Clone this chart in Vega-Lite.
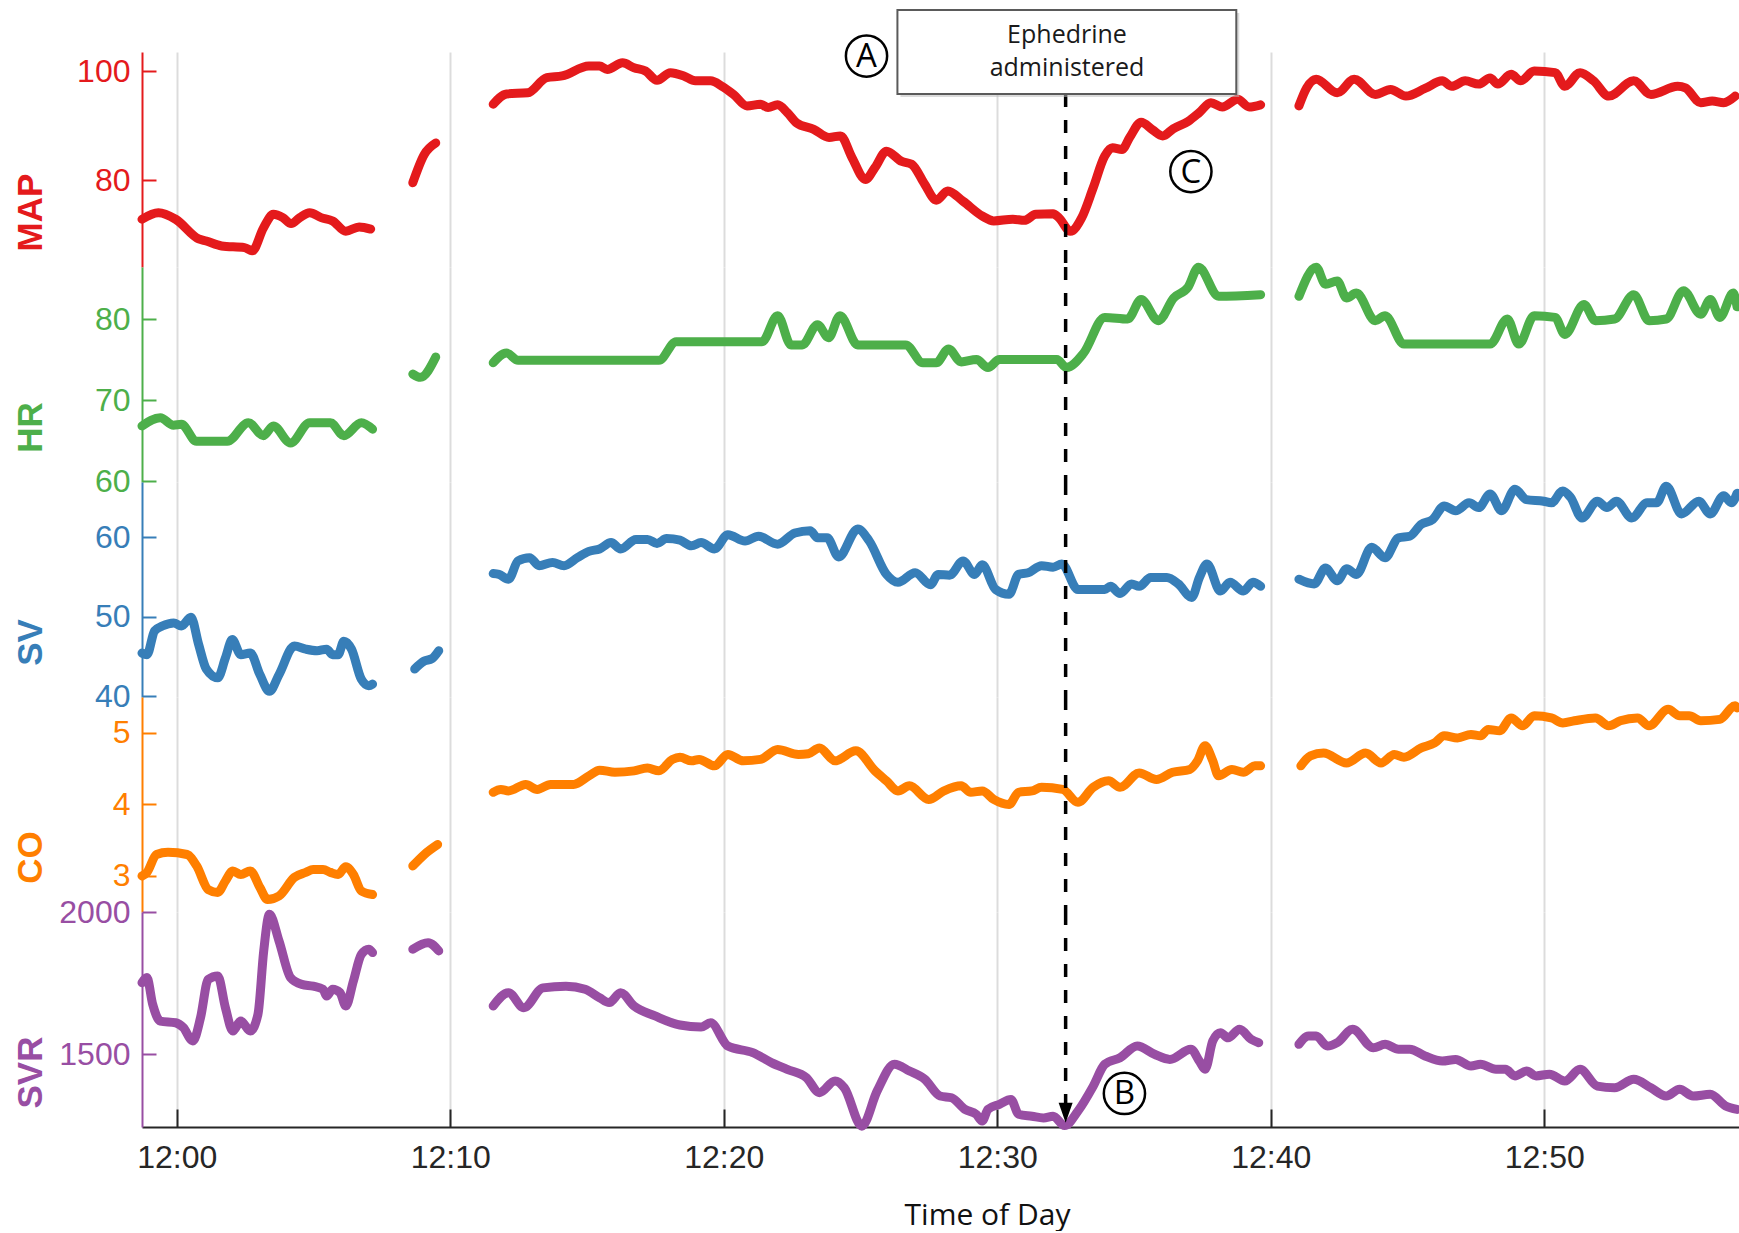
{
  "$schema": "https://vega.github.io/schema/vega-lite/v6.json",
  "background": "white",
  "padding": {"left": 13, "top": 9, "right": 0, "bottom": 1},
  "autosize": {"type": "pad"},
  "spacing": 0,
  "bounds": "flush",
  "resolve": {"scale": {"y": "independent"}, "axis": {"x": "independent", "y": "independent"}},
  "config": {
    "view": {"stroke": null},
    "axis": {"labelFont": "Liberation Sans", "titleFont": "Liberation Sans"},
    "line": {"strokeWidth": 9, "strokeCap": "round", "strokeJoin": "round", "interpolate": "monotone"}
  },
  "datasets": {
    "map": [
      {"t":-1.27,"v":72.8,"s":1},{"t":-0.67,"v":74.0,"s":1},{"t":-0.04,"v":72.8,"s":1},{"t":0.8,"v":69.2,"s":1},{"t":1.08,"v":68.8,"s":1},{"t":1.64,"v":67.9,"s":1},{"t":2.48,"v":67.6,"s":1},{"t":2.76,"v":67.0,"s":1},{"t":3.17,"v":71.2,"s":1},{"t":3.53,"v":73.7,"s":1},{"t":3.88,"v":73.1,"s":1},{"t":4.18,"v":72.0,"s":1},{"t":4.5,"v":73.1,"s":1},{"t":4.86,"v":74.0,"s":1},{"t":5.28,"v":73.1,"s":1},{"t":5.7,"v":72.5,"s":1},{"t":6.18,"v":70.6,"s":1},{"t":6.67,"v":71.4,"s":1},{"t":7.09,"v":71.0,"s":1},
      {"t":8.63,"v":79.5,"s":2},{"t":9.05,"v":84.7,"s":2},{"t":9.47,"v":86.8,"s":2},
      {"t":11.57,"v":93.9,"s":3},{"t":12.06,"v":95.8,"s":3},{"t":12.83,"v":96.0,"s":3},{"t":13.53,"v":98.8,"s":3},{"t":14.09,"v":99.1,"s":3},{"t":15.07,"v":100.9,"s":3},{"t":15.46,"v":100.9,"s":3},{"t":15.74,"v":100.3,"s":3},{"t":16.3,"v":101.5,"s":3},{"t":16.72,"v":100.6,"s":3},{"t":17.14,"v":100.0,"s":3},{"t":17.56,"v":98.3,"s":3},{"t":18.05,"v":99.7,"s":3},{"t":18.54,"v":99.1,"s":3},{"t":18.96,"v":98.2,"s":3},{"t":19.52,"v":98.2,"s":3},{"t":19.94,"v":97.2,"s":3},{"t":20.36,"v":95.7,"s":3},{"t":20.85,"v":93.6,"s":3},{"t":21.34,"v":93.9,"s":3},{"t":21.62,"v":93.3,"s":3},{"t":21.97,"v":93.8,"s":3},{"t":22.32,"v":92.4,"s":3},{"t":22.66,"v":90.5,"s":3},{"t":23.29,"v":89.3,"s":3},{"t":23.85,"v":87.8,"s":3},{"t":24.27,"v":88.1,"s":3},{"t":24.69,"v":84.1,"s":3},{"t":25.18,"v":80.1,"s":3},{"t":25.53,"v":82.3,"s":3},{"t":25.95,"v":85.3,"s":3},{"t":26.51,"v":83.4,"s":3},{"t":26.87,"v":82.9,"s":3},{"t":27.35,"v":79.2,"s":3},{"t":27.77,"v":76.3,"s":3},{"t":28.19,"v":78.0,"s":3},{"t":28.75,"v":76.1,"s":3},{"t":29.45,"v":73.4,"s":3},{"t":29.87,"v":72.5,"s":3},{"t":30.57,"v":72.8,"s":3},{"t":30.99,"v":72.6,"s":3},{"t":31.41,"v":73.7,"s":3},{"t":32.04,"v":73.8,"s":3},{"t":32.25,"v":73.1,"s":3},{"t":32.67,"v":70.6,"s":3},{"t":33.09,"v":73.1,"s":3},{"t":33.51,"v":78.6,"s":3},{"t":33.93,"v":84.4,"s":3},{"t":34.21,"v":85.9,"s":3},{"t":34.56,"v":85.6,"s":3},{"t":34.84,"v":87.8,"s":3},{"t":35.26,"v":90.6,"s":3},{"t":35.68,"v":89.2,"s":3},{"t":36.05,"v":88.1,"s":3},{"t":36.43,"v":89.4,"s":3},{"t":36.99,"v":90.8,"s":3},{"t":37.39,"v":92.4,"s":3},{"t":37.81,"v":94.2,"s":3},{"t":38.23,"v":93.4,"s":3},{"t":38.79,"v":94.8,"s":3},{"t":39.21,"v":93.4,"s":3},{"t":39.63,"v":93.8,"s":3},
      {"t":41.03,"v":93.6,"s":4},{"t":41.31,"v":96.9,"s":4},{"t":41.66,"v":98.5,"s":4},{"t":42.43,"v":96.0,"s":4},{"t":43.05,"v":98.5,"s":4},{"t":43.82,"v":95.7,"s":4},{"t":44.38,"v":96.6,"s":4},{"t":44.94,"v":95.4,"s":4},{"t":45.64,"v":96.8,"s":4},{"t":46.27,"v":98.2,"s":4},{"t":46.62,"v":97.2,"s":4},{"t":47.11,"v":98.2,"s":4},{"t":47.6,"v":97.6,"s":4},{"t":48.02,"v":98.7,"s":4},{"t":48.3,"v":97.6,"s":4},{"t":48.79,"v":99.4,"s":4},{"t":49.14,"v":98.2,"s":4},{"t":49.63,"v":100.0,"s":4},{"t":50.4,"v":99.7,"s":4},{"t":50.75,"v":97.2,"s":4},{"t":51.31,"v":99.7,"s":4},{"t":51.8,"v":98.2,"s":4},{"t":52.36,"v":95.4,"s":4},{"t":53.27,"v":98.2,"s":4},{"t":53.9,"v":95.7,"s":4},{"t":54.88,"v":97.2,"s":4},{"t":55.16,"v":96.9,"s":4},{"t":55.72,"v":94.2,"s":4},{"t":56.14,"v":94.5,"s":4},{"t":56.56,"v":94.2,"s":4},{"t":56.98,"v":95.4,"s":4}
    ],
    "hr": [
      {"t":-1.27,"v":66.8,"s":1},{"t":-0.6,"v":67.8,"s":1},{"t":-0.12,"v":66.9,"s":1},{"t":0.17,"v":67.0,"s":1},{"t":0.72,"v":64.9,"s":1},{"t":1.85,"v":64.9,"s":1},{"t":2.62,"v":67.2,"s":1},{"t":3.17,"v":65.6,"s":1},{"t":3.53,"v":66.8,"s":1},{"t":4.16,"v":64.7,"s":1},{"t":4.86,"v":67.2,"s":1},{"t":5.62,"v":67.2,"s":1},{"t":6.11,"v":65.6,"s":1},{"t":6.75,"v":67.2,"s":1},{"t":7.16,"v":66.4,"s":1},
      {"t":8.63,"v":73.2,"s":2},{"t":8.91,"v":72.8,"s":2},{"t":9.47,"v":75.3,"s":2},
      {"t":11.57,"v":74.6,"s":3},{"t":12.06,"v":75.8,"s":3},{"t":12.48,"v":74.9,"s":3},{"t":17.63,"v":74.9,"s":3},{"t":18.26,"v":77.2,"s":3},{"t":21.4,"v":77.2,"s":3},{"t":21.97,"v":80.4,"s":3},{"t":22.46,"v":76.8,"s":3},{"t":22.87,"v":76.8,"s":3},{"t":23.43,"v":79.3,"s":3},{"t":23.83,"v":77.7,"s":3},{"t":24.25,"v":80.4,"s":3},{"t":24.9,"v":76.8,"s":3},{"t":26.65,"v":76.8,"s":3},{"t":27.28,"v":74.6,"s":3},{"t":27.77,"v":74.6,"s":3},{"t":28.22,"v":76.3,"s":3},{"t":28.68,"v":74.7,"s":3},{"t":29.24,"v":75.0,"s":3},{"t":29.66,"v":74.0,"s":3},{"t":30.08,"v":75.0,"s":3},{"t":32.18,"v":75.0,"s":3},{"t":32.53,"v":74.0,"s":3},{"t":33.16,"v":75.8,"s":3},{"t":33.93,"v":80.2,"s":3},{"t":34.77,"v":80.0,"s":3},{"t":35.26,"v":82.4,"s":3},{"t":35.89,"v":79.8,"s":3},{"t":36.45,"v":82.6,"s":3},{"t":36.97,"v":83.9,"s":3},{"t":37.36,"v":86.4,"s":3},{"t":38.09,"v":82.8,"s":3},{"t":39.63,"v":83.0,"s":3},
      {"t":41.03,"v":82.8,"s":4},{"t":41.66,"v":86.4,"s":4},{"t":42.0,"v":84.3,"s":4},{"t":42.43,"v":84.7,"s":4},{"t":42.77,"v":82.6,"s":4},{"t":43.13,"v":83.2,"s":4},{"t":43.82,"v":79.8,"s":4},{"t":44.18,"v":80.4,"s":4},{"t":44.87,"v":76.9,"s":4},{"t":48.02,"v":76.9,"s":4},{"t":48.65,"v":80.0,"s":4},{"t":49.07,"v":76.9,"s":4},{"t":49.63,"v":80.4,"s":4},{"t":50.4,"v":80.2,"s":4},{"t":50.75,"v":78.1,"s":4},{"t":51.45,"v":81.8,"s":4},{"t":51.87,"v":79.8,"s":4},{"t":52.57,"v":80.0,"s":4},{"t":53.27,"v":83.0,"s":4},{"t":53.83,"v":79.8,"s":4},{"t":54.46,"v":80.0,"s":4},{"t":55.09,"v":83.5,"s":4},{"t":55.72,"v":80.6,"s":4},{"t":56.07,"v":82.4,"s":4},{"t":56.42,"v":80.2,"s":4},{"t":56.91,"v":83.2,"s":4},{"t":57.05,"v":81.5,"s":4}
    ],
    "sv": [
      {"t":-1.27,"v":45.4,"s":1},{"t":-1.09,"v":45.2,"s":1},{"t":-0.81,"v":48.2,"s":1},{"t":-0.53,"v":48.8,"s":1},{"t":-0.11,"v":49.2,"s":1},{"t":0.17,"v":48.8,"s":1},{"t":0.52,"v":49.9,"s":1},{"t":0.8,"v":46.5,"s":1},{"t":1.08,"v":43.4,"s":1},{"t":1.5,"v":42.3,"s":1},{"t":1.78,"v":44.8,"s":1},{"t":2.03,"v":47.1,"s":1},{"t":2.34,"v":45.2,"s":1},{"t":2.69,"v":45.4,"s":1},{"t":3.04,"v":42.7,"s":1},{"t":3.39,"v":40.6,"s":1},{"t":3.74,"v":42.7,"s":1},{"t":4.3,"v":46.3,"s":1},{"t":4.72,"v":45.9,"s":1},{"t":5.13,"v":45.7,"s":1},{"t":5.48,"v":45.9,"s":1},{"t":5.7,"v":45.2,"s":1},{"t":5.9,"v":45.2,"s":1},{"t":6.11,"v":46.9,"s":1},{"t":6.39,"v":45.9,"s":1},{"t":6.75,"v":42.1,"s":1},{"t":7.02,"v":41.3,"s":1},{"t":7.16,"v":41.5,"s":1},
      {"t":8.7,"v":43.4,"s":2},{"t":9.05,"v":44.4,"s":2},{"t":9.33,"v":44.7,"s":2},{"t":9.58,"v":45.7,"s":2},
      {"t":11.57,"v":55.4,"s":3},{"t":11.78,"v":55.3,"s":3},{"t":12.13,"v":54.7,"s":3},{"t":12.48,"v":57.0,"s":3},{"t":12.9,"v":57.4,"s":3},{"t":13.25,"v":56.4,"s":3},{"t":13.74,"v":56.8,"s":3},{"t":14.16,"v":56.4,"s":3},{"t":14.65,"v":57.4,"s":3},{"t":15.07,"v":58.2,"s":3},{"t":15.46,"v":58.5,"s":3},{"t":15.88,"v":59.3,"s":3},{"t":16.23,"v":58.5,"s":3},{"t":16.79,"v":59.7,"s":3},{"t":17.21,"v":59.7,"s":3},{"t":17.56,"v":59.2,"s":3},{"t":17.91,"v":59.8,"s":3},{"t":18.4,"v":59.6,"s":3},{"t":18.82,"v":58.9,"s":3},{"t":19.17,"v":59.3,"s":3},{"t":19.66,"v":58.5,"s":3},{"t":20.15,"v":60.3,"s":3},{"t":20.78,"v":59.5,"s":3},{"t":21.27,"v":60.1,"s":3},{"t":21.97,"v":59.1,"s":3},{"t":22.6,"v":60.5,"s":3},{"t":23.16,"v":60.8,"s":3},{"t":23.43,"v":59.9,"s":3},{"t":23.78,"v":59.9,"s":3},{"t":24.2,"v":57.5,"s":3},{"t":24.9,"v":61.0,"s":3},{"t":25.32,"v":59.5,"s":3},{"t":25.95,"v":55.3,"s":3},{"t":26.37,"v":54.3,"s":3},{"t":27.0,"v":55.5,"s":3},{"t":27.56,"v":54.0,"s":3},{"t":27.84,"v":55.3,"s":3},{"t":28.26,"v":55.2,"s":3},{"t":28.75,"v":57.0,"s":3},{"t":29.17,"v":55.3,"s":3},{"t":29.45,"v":56.5,"s":3},{"t":29.94,"v":53.4,"s":3},{"t":30.43,"v":52.8,"s":3},{"t":30.78,"v":55.3,"s":3},{"t":31.13,"v":55.5,"s":3},{"t":31.62,"v":56.4,"s":3},{"t":32.04,"v":56.2,"s":3},{"t":32.36,"v":56.6,"s":3},{"t":32.95,"v":53.4,"s":3},{"t":33.93,"v":53.4,"s":3},{"t":34.14,"v":53.8,"s":3},{"t":34.49,"v":52.9,"s":3},{"t":34.91,"v":54.1,"s":3},{"t":35.19,"v":53.8,"s":3},{"t":35.61,"v":54.9,"s":3},{"t":36.2,"v":54.9,"s":3},{"t":36.62,"v":54.1,"s":3},{"t":37.11,"v":52.4,"s":3},{"t":37.39,"v":54.9,"s":3},{"t":37.67,"v":56.6,"s":3},{"t":38.16,"v":53.2,"s":3},{"t":38.51,"v":54.3,"s":3},{"t":39.0,"v":53.2,"s":3},{"t":39.35,"v":54.3,"s":3},{"t":39.63,"v":53.8,"s":3},
      {"t":41.03,"v":54.7,"s":4},{"t":41.59,"v":54.1,"s":4},{"t":42.0,"v":56.1,"s":4},{"t":42.43,"v":54.5,"s":4},{"t":42.78,"v":56.0,"s":4},{"t":43.13,"v":55.3,"s":4},{"t":43.69,"v":58.7,"s":4},{"t":44.18,"v":57.4,"s":4},{"t":44.67,"v":59.9,"s":4},{"t":45.08,"v":60.1,"s":4},{"t":45.5,"v":61.6,"s":4},{"t":45.92,"v":62.2,"s":4},{"t":46.34,"v":63.9,"s":4},{"t":46.76,"v":63.3,"s":4},{"t":47.25,"v":64.3,"s":4},{"t":47.6,"v":63.7,"s":4},{"t":48.02,"v":65.4,"s":4},{"t":48.44,"v":63.3,"s":4},{"t":48.93,"v":66.0,"s":4},{"t":49.35,"v":64.7,"s":4},{"t":49.98,"v":64.5,"s":4},{"t":50.26,"v":64.3,"s":4},{"t":50.68,"v":65.8,"s":4},{"t":50.96,"v":65.0,"s":4},{"t":51.38,"v":62.4,"s":4},{"t":51.94,"v":64.5,"s":4},{"t":52.29,"v":63.7,"s":4},{"t":52.64,"v":64.5,"s":4},{"t":53.2,"v":62.4,"s":4},{"t":53.76,"v":64.3,"s":4},{"t":54.11,"v":64.3,"s":4},{"t":54.46,"v":66.4,"s":4},{"t":55.02,"v":62.9,"s":4},{"t":55.65,"v":64.5,"s":4},{"t":56.07,"v":62.9,"s":4},{"t":56.56,"v":65.2,"s":4},{"t":56.84,"v":64.3,"s":4},{"t":57.05,"v":65.5,"s":4}
    ],
    "co": [
      {"t":-1.27,"v":3.0,"s":1},{"t":-1.09,"v":3.05,"s":1},{"t":-0.74,"v":3.3,"s":1},{"t":-0.32,"v":3.33,"s":1},{"t":0.38,"v":3.3,"s":1},{"t":0.73,"v":3.14,"s":1},{"t":1.15,"v":2.81,"s":1},{"t":1.5,"v":2.77,"s":1},{"t":1.78,"v":2.93,"s":1},{"t":2.05,"v":3.07,"s":1},{"t":2.34,"v":3.02,"s":1},{"t":2.69,"v":3.07,"s":1},{"t":3.04,"v":2.84,"s":1},{"t":3.32,"v":2.67,"s":1},{"t":3.74,"v":2.72,"s":1},{"t":4.3,"v":2.98,"s":1},{"t":4.72,"v":3.05,"s":1},{"t":4.99,"v":3.09,"s":1},{"t":5.35,"v":3.09,"s":1},{"t":5.62,"v":3.05,"s":1},{"t":5.9,"v":3.02,"s":1},{"t":6.18,"v":3.13,"s":1},{"t":6.46,"v":3.02,"s":1},{"t":6.75,"v":2.79,"s":1},{"t":7.16,"v":2.74,"s":1},
      {"t":8.63,"v":3.14,"s":2},{"t":9.05,"v":3.3,"s":2},{"t":9.54,"v":3.44,"s":2},
      {"t":11.57,"v":4.17,"s":3},{"t":11.85,"v":4.21,"s":3},{"t":12.13,"v":4.19,"s":3},{"t":12.76,"v":4.28,"s":3},{"t":13.18,"v":4.21,"s":3},{"t":13.67,"v":4.28,"s":3},{"t":14.51,"v":4.28,"s":3},{"t":15.07,"v":4.4,"s":3},{"t":15.46,"v":4.48,"s":3},{"t":16.02,"v":4.45,"s":3},{"t":16.72,"v":4.47,"s":3},{"t":17.21,"v":4.51,"s":3},{"t":17.63,"v":4.47,"s":3},{"t":18.12,"v":4.63,"s":3},{"t":18.4,"v":4.66,"s":3},{"t":18.82,"v":4.61,"s":3},{"t":19.1,"v":4.63,"s":3},{"t":19.66,"v":4.54,"s":3},{"t":20.15,"v":4.7,"s":3},{"t":20.71,"v":4.61,"s":3},{"t":21.34,"v":4.63,"s":3},{"t":21.97,"v":4.77,"s":3},{"t":22.73,"v":4.7,"s":3},{"t":23.09,"v":4.71,"s":3},{"t":23.5,"v":4.79,"s":3},{"t":24.07,"v":4.61,"s":3},{"t":24.83,"v":4.75,"s":3},{"t":25.53,"v":4.47,"s":3},{"t":25.95,"v":4.33,"s":3},{"t":26.37,"v":4.19,"s":3},{"t":26.79,"v":4.26,"s":3},{"t":27.49,"v":4.07,"s":3},{"t":28.05,"v":4.19,"s":3},{"t":28.68,"v":4.26,"s":3},{"t":29.03,"v":4.17,"s":3},{"t":29.45,"v":4.19,"s":3},{"t":29.87,"v":4.07,"s":3},{"t":30.43,"v":4.0,"s":3},{"t":30.78,"v":4.17,"s":3},{"t":31.27,"v":4.19,"s":3},{"t":31.62,"v":4.24,"s":3},{"t":32.39,"v":4.21,"s":3},{"t":32.95,"v":4.03,"s":3},{"t":33.51,"v":4.24,"s":3},{"t":34.07,"v":4.33,"s":3},{"t":34.49,"v":4.24,"s":3},{"t":35.19,"v":4.44,"s":3},{"t":35.82,"v":4.35,"s":3},{"t":36.41,"v":4.45,"s":3},{"t":37.04,"v":4.49,"s":3},{"t":37.32,"v":4.61,"s":3},{"t":37.6,"v":4.82,"s":3},{"t":37.88,"v":4.61,"s":3},{"t":38.09,"v":4.4,"s":3},{"t":38.58,"v":4.49,"s":3},{"t":39.0,"v":4.45,"s":3},{"t":39.42,"v":4.54,"s":3},{"t":39.63,"v":4.54,"s":3},
      {"t":41.1,"v":4.54,"s":4},{"t":41.45,"v":4.68,"s":4},{"t":41.93,"v":4.72,"s":4},{"t":42.77,"v":4.58,"s":4},{"t":43.47,"v":4.72,"s":4},{"t":44.03,"v":4.58,"s":4},{"t":44.52,"v":4.7,"s":4},{"t":44.87,"v":4.66,"s":4},{"t":45.5,"v":4.79,"s":4},{"t":45.99,"v":4.86,"s":4},{"t":46.34,"v":4.96,"s":4},{"t":46.83,"v":4.93,"s":4},{"t":47.32,"v":4.98,"s":4},{"t":47.67,"v":4.96,"s":4},{"t":47.95,"v":5.05,"s":4},{"t":48.37,"v":5.03,"s":4},{"t":48.79,"v":5.21,"s":4},{"t":49.21,"v":5.1,"s":4},{"t":49.63,"v":5.24,"s":4},{"t":50.26,"v":5.21,"s":4},{"t":50.68,"v":5.14,"s":4},{"t":51.1,"v":5.17,"s":4},{"t":51.87,"v":5.21,"s":4},{"t":52.36,"v":5.1,"s":4},{"t":52.78,"v":5.17,"s":4},{"t":53.41,"v":5.21,"s":4},{"t":53.83,"v":5.1,"s":4},{"t":54.53,"v":5.33,"s":4},{"t":54.95,"v":5.24,"s":4},{"t":55.3,"v":5.24,"s":4},{"t":55.72,"v":5.17,"s":4},{"t":56.42,"v":5.19,"s":4},{"t":56.98,"v":5.38,"s":4},{"t":57.05,"v":5.35,"s":4}
    ],
    "svr": [
      {"t":-1.27,"v":1751,"s":1},{"t":-1.09,"v":1769,"s":1},{"t":-0.88,"v":1675,"s":1},{"t":-0.6,"v":1616,"s":1},{"t":-0.04,"v":1610,"s":1},{"t":0.24,"v":1593,"s":1},{"t":0.59,"v":1546,"s":1},{"t":0.87,"v":1628,"s":1},{"t":1.15,"v":1763,"s":1},{"t":1.5,"v":1775,"s":1},{"t":1.78,"v":1663,"s":1},{"t":2.05,"v":1581,"s":1},{"t":2.34,"v":1616,"s":1},{"t":2.69,"v":1581,"s":1},{"t":2.97,"v":1640,"s":1},{"t":3.18,"v":1863,"s":1},{"t":3.39,"v":1992,"s":1},{"t":3.74,"v":1898,"s":1},{"t":4.16,"v":1769,"s":1},{"t":4.57,"v":1745,"s":1},{"t":4.99,"v":1739,"s":1},{"t":5.35,"v":1728,"s":1},{"t":5.48,"v":1704,"s":1},{"t":5.7,"v":1728,"s":1},{"t":5.97,"v":1716,"s":1},{"t":6.18,"v":1669,"s":1},{"t":6.46,"v":1757,"s":1},{"t":6.75,"v":1851,"s":1},{"t":7.02,"v":1869,"s":1},{"t":7.16,"v":1857,"s":1},
      {"t":8.63,"v":1869,"s":2},{"t":9.19,"v":1892,"s":2},{"t":9.58,"v":1863,"s":2},
      {"t":11.57,"v":1669,"s":3},{"t":12.13,"v":1716,"s":3},{"t":12.69,"v":1663,"s":3},{"t":13.39,"v":1733,"s":3},{"t":14.23,"v":1739,"s":3},{"t":14.93,"v":1728,"s":3},{"t":15.46,"v":1698,"s":3},{"t":15.81,"v":1681,"s":3},{"t":16.23,"v":1716,"s":3},{"t":16.72,"v":1669,"s":3},{"t":17.49,"v":1634,"s":3},{"t":18.4,"v":1602,"s":3},{"t":19.17,"v":1595,"s":3},{"t":19.52,"v":1610,"s":3},{"t":20.15,"v":1528,"s":3},{"t":21.06,"v":1505,"s":3},{"t":21.76,"v":1469,"s":3},{"t":22.32,"v":1446,"s":3},{"t":23.02,"v":1417,"s":3},{"t":23.5,"v":1364,"s":3},{"t":24.07,"v":1405,"s":3},{"t":24.41,"v":1381,"s":3},{"t":25.05,"v":1246,"s":3},{"t":25.61,"v":1370,"s":3},{"t":26.24,"v":1464,"s":3},{"t":26.79,"v":1440,"s":3},{"t":27.35,"v":1411,"s":3},{"t":27.91,"v":1352,"s":3},{"t":28.33,"v":1346,"s":3},{"t":28.82,"v":1305,"s":3},{"t":29.24,"v":1287,"s":3},{"t":29.45,"v":1264,"s":3},{"t":29.66,"v":1305,"s":3},{"t":30.08,"v":1323,"s":3},{"t":30.5,"v":1340,"s":3},{"t":30.78,"v":1288,"s":3},{"t":31.27,"v":1281,"s":3},{"t":31.69,"v":1275,"s":3},{"t":32.04,"v":1281,"s":3},{"t":32.46,"v":1248,"s":3},{"t":32.95,"v":1299,"s":3},{"t":33.51,"v":1387,"s":3},{"t":33.93,"v":1464,"s":3},{"t":34.49,"v":1487,"s":3},{"t":35.12,"v":1528,"s":3},{"t":35.75,"v":1499,"s":3},{"t":36.31,"v":1481,"s":3},{"t":37.08,"v":1517,"s":3},{"t":37.39,"v":1475,"s":3},{"t":37.6,"v":1446,"s":3},{"t":37.88,"v":1546,"s":3},{"t":38.16,"v":1575,"s":3},{"t":38.44,"v":1557,"s":3},{"t":38.86,"v":1587,"s":3},{"t":39.28,"v":1552,"s":3},{"t":39.56,"v":1540,"s":3},
      {"t":41.03,"v":1534,"s":4},{"t":41.38,"v":1563,"s":4},{"t":41.66,"v":1563,"s":4},{"t":42.07,"v":1528,"s":4},{"t":42.43,"v":1540,"s":4},{"t":42.99,"v":1587,"s":4},{"t":43.75,"v":1522,"s":4},{"t":44.18,"v":1534,"s":4},{"t":44.67,"v":1517,"s":4},{"t":45.08,"v":1517,"s":4},{"t":45.64,"v":1493,"s":4},{"t":46.27,"v":1475,"s":4},{"t":46.76,"v":1481,"s":4},{"t":47.32,"v":1458,"s":4},{"t":47.67,"v":1464,"s":4},{"t":48.23,"v":1446,"s":4},{"t":48.58,"v":1446,"s":4},{"t":48.93,"v":1423,"s":4},{"t":49.35,"v":1440,"s":4},{"t":49.7,"v":1423,"s":4},{"t":50.19,"v":1429,"s":4},{"t":50.75,"v":1405,"s":4},{"t":51.31,"v":1446,"s":4},{"t":51.94,"v":1387,"s":4},{"t":52.57,"v":1381,"s":4},{"t":53.27,"v":1411,"s":4},{"t":53.9,"v":1381,"s":4},{"t":54.46,"v":1352,"s":4},{"t":54.95,"v":1376,"s":4},{"t":55.44,"v":1352,"s":4},{"t":56.07,"v":1358,"s":4},{"t":56.63,"v":1317,"s":4},{"t":57.05,"v":1305,"s":4}
    ]
  },
  "vconcat": [
    {
      "width": 1597, "height": 215,
      "layer": [
        {"data": {"name": "map"}, "mark": {"type": "line", "color": "#e41a1c"},
         "encoding": {
           "x": {"field": "t", "type": "quantitative", "scale": {"domain": [-1.27, 57.12], "nice": false, "zero": false}, "axis": {"values": [0,10,20,30,40,50], "grid": true, "gridColor": "#dcdcdc", "gridWidth": 2, "labels": false, "ticks": false, "domain": false, "title": null}},
           "y": {"field": "v", "type": "quantitative", "scale": {"domain": [64.04, 103.49], "nice": false, "zero": false}, "axis": {"values": [80,100], "format": "d", "title": "MAP", "grid": false, "domainColor": "#e41a1c", "domainWidth": 2, "tickColor": "#e41a1c", "tickWidth": 2, "tickSize": -14, "labelColor": "#e41a1c", "labelFontSize": 32, "labelPadding": 26, "labelOverlap": false, "labelFlush": false, "titleColor": "#e41a1c", "titleFontSize": 35, "titleFontWeight": "bold", "titleX": -112, "titleY": 160, "titleAngle": 270, "titleAlign": "center", "titleBaseline": "middle"}},
           "detail": {"field": "s", "type": "nominal"}
         }},
        {"data": {"values": [{}]}, "mark": {"type": "rule", "color": "black", "strokeWidth": 3.5, "strokeDash": [13, 13]},
         "encoding": {"x": {"datum": 32.5, "type": "quantitative"}, "y": {"datum": 95.78, "type": "quantitative"}, "y2": {"datum": 64.04}}},
        {"data": {"values": [{}]}, "mark": {"type": "rect", "fill": "#bdbdbd", "opacity": 0.55, "xOffset": 3, "x2Offset": 3, "yOffset": 3, "y2Offset": 3},
         "encoding": {"x": {"datum": 26.35, "type": "quantitative"}, "x2": {"datum": 38.74}, "y": {"datum": 111.19, "type": "quantitative"}, "y2": {"datum": 95.78}}},
        {"data": {"values": [{}]}, "mark": {"type": "rect", "fill": "white", "stroke": "#5a5a5a", "strokeWidth": 2},
         "encoding": {"x": {"datum": 26.35, "type": "quantitative"}, "x2": {"datum": 38.74}, "y": {"datum": 111.19, "type": "quantitative"}, "y2": {"datum": 95.78}}},
        {"data": {"values": [{}]}, "mark": {"type": "text", "text": ["Ephedrine", "administered"], "font": "Open Sans", "fontSize": 25, "lineHeight": 33, "align": "center", "baseline": "middle", "color": "#1a1a1a"},
         "encoding": {"x": {"datum": 32.55, "type": "quantitative"}, "y": {"datum": 106.55, "type": "quantitative"}}},
        {"data": {"values": [{"label": "A", "t": 25.22, "v": 102.75}, {"label": "C", "t": 37.08, "v": 81.56}]}, "mark": {"type": "point", "shape": "circle", "filled": false, "stroke": "black", "strokeWidth": 2.5, "size": 1700, "opacity": 1},
         "encoding": {"x": {"field": "t", "type": "quantitative"}, "y": {"field": "v", "type": "quantitative"}}},
        {"data": {"values": [{"label": "A", "t": 25.22, "v": 102.75}, {"label": "C", "t": 37.08, "v": 81.56}]}, "mark": {"type": "text", "font": "Open Sans", "fontSize": 33, "align": "center", "baseline": "middle", "color": "black", "dy": 1},
         "encoding": {"x": {"field": "t", "type": "quantitative"}, "y": {"field": "v", "type": "quantitative"}, "text": {"field": "label"}}}
      ]
    },
    {
      "width": 1597, "height": 215,
      "layer": [
        {"data": {"name": "hr"}, "mark": {"type": "line", "color": "#4daf4a"},
         "encoding": {
           "x": {"field": "t", "type": "quantitative", "scale": {"domain": [-1.27, 57.12], "nice": false, "zero": false}, "axis": {"values": [0,10,20,30,40,50], "grid": true, "gridColor": "#dcdcdc", "gridWidth": 2, "labels": false, "ticks": false, "domain": false, "title": null}},
           "y": {"field": "v", "type": "quantitative", "scale": {"domain": [59.88, 86.42], "nice": false, "zero": false}, "axis": {"values": [60,70,80], "format": "d", "title": "HR", "grid": false, "domainColor": "#4daf4a", "domainWidth": 2, "tickColor": "#4daf4a", "tickWidth": 2, "tickSize": -14, "labelColor": "#4daf4a", "labelFontSize": 32, "labelPadding": 26, "labelOverlap": false, "labelFlush": false, "titleColor": "#4daf4a", "titleFontSize": 35, "titleFontWeight": "bold", "titleX": -112, "titleY": 160, "titleAngle": 270, "titleAlign": "center", "titleBaseline": "middle"}},
           "detail": {"field": "s", "type": "nominal"}
         }},
        {"data": {"values": [{}]}, "mark": {"type": "rule", "color": "black", "strokeWidth": 3.5, "strokeDash": [13, 13]},
         "encoding": {"x": {"datum": 32.5, "type": "quantitative"}}}
      ]
    },
    {
      "width": 1597, "height": 215,
      "layer": [
        {"data": {"name": "sv"}, "mark": {"type": "line", "color": "#377eb8"},
         "encoding": {
           "x": {"field": "t", "type": "quantitative", "scale": {"domain": [-1.27, 57.12], "nice": false, "zero": false}, "axis": {"values": [0,10,20,30,40,50], "grid": true, "gridColor": "#dcdcdc", "gridWidth": 2, "labels": false, "ticks": false, "domain": false, "title": null}},
           "y": {"field": "v", "type": "quantitative", "scale": {"domain": [39.88, 66.92], "nice": false, "zero": false}, "axis": {"values": [40,50,60], "format": "d", "title": "SV", "grid": false, "domainColor": "#377eb8", "domainWidth": 2, "tickColor": "#377eb8", "tickWidth": 2, "tickSize": -14, "labelColor": "#377eb8", "labelFontSize": 32, "labelPadding": 26, "labelOverlap": false, "labelFlush": false, "titleColor": "#377eb8", "titleFontSize": 35, "titleFontWeight": "bold", "titleX": -112, "titleY": 160, "titleAngle": 270, "titleAlign": "center", "titleBaseline": "middle"}},
           "detail": {"field": "s", "type": "nominal"}
         }},
        {"data": {"values": [{}]}, "mark": {"type": "rule", "color": "black", "strokeWidth": 3.5, "strokeDash": [13, 13]},
         "encoding": {"x": {"datum": 32.5, "type": "quantitative"}}}
      ]
    },
    {
      "width": 1597, "height": 215,
      "layer": [
        {"data": {"name": "co"}, "mark": {"type": "line", "color": "#ff7f00"},
         "encoding": {
           "x": {"field": "t", "type": "quantitative", "scale": {"domain": [-1.27, 57.12], "nice": false, "zero": false}, "axis": {"values": [0,10,20,30,40,50], "grid": true, "gridColor": "#dcdcdc", "gridWidth": 2, "labels": false, "ticks": false, "domain": false, "title": null}},
           "y": {"field": "v", "type": "quantitative", "scale": {"domain": [2.496, 5.503], "nice": false, "zero": false}, "axis": {"values": [3,4,5], "format": "d", "title": "CO", "grid": false, "domainColor": "#ff7f00", "domainWidth": 2, "tickColor": "#ff7f00", "tickWidth": 2, "tickSize": -14, "labelColor": "#ff7f00", "labelFontSize": 32, "labelPadding": 26, "labelOverlap": false, "labelFlush": false, "titleColor": "#ff7f00", "titleFontSize": 35, "titleFontWeight": "bold", "titleX": -112, "titleY": 160, "titleAngle": 270, "titleAlign": "center", "titleBaseline": "middle"}},
           "detail": {"field": "s", "type": "nominal"}
         }},
        {"data": {"values": [{}]}, "mark": {"type": "rule", "color": "black", "strokeWidth": 3.5, "strokeDash": [13, 13]},
         "encoding": {"x": {"datum": 32.5, "type": "quantitative"}}}
      ]
    },
    {
      "width": 1597, "height": 215,
      "layer": [
        {"data": {"name": "svr"}, "mark": {"type": "line", "color": "#984ea3"},
         "encoding": {
           "x": {"field": "t", "type": "quantitative", "scale": {"domain": [-1.27, 57.12], "nice": false, "zero": false}, "axis": {"values": [0,10,20,30,40,50], "labelExpr": "'12:' + (datum.value < 10 ? '0' : '') + datum.value", "grid": true, "gridColor": "#dcdcdc", "gridWidth": 2, "domainColor": "#262626", "domainWidth": 2, "tickColor": "#262626", "tickWidth": 2, "tickSize": -18, "labelPadding": 33, "labelFontSize": 32, "labelColor": "#262626", "labelFlush": false, "labelOverlap": false, "title": "Time of Day", "titleFont": "Open Sans", "titleFontSize": 30, "titleFontWeight": "normal", "titleColor": "#111111", "titleX": 845, "titleY": 88, "titleAlign": "center", "titleBaseline": "middle"}},
           "y": {"field": "v", "type": "quantitative", "scale": {"domain": [1243, 2000], "nice": false, "zero": false}, "axis": {"values": [1500,2000], "format": "d", "title": "SVR", "grid": false, "domainColor": "#984ea3", "domainWidth": 2, "tickColor": "#984ea3", "tickWidth": 2, "tickSize": -14, "labelColor": "#984ea3", "labelFontSize": 32, "labelPadding": 26, "labelOverlap": false, "labelFlush": false, "titleColor": "#984ea3", "titleFontSize": 35, "titleFontWeight": "bold", "titleX": -112, "titleY": 160, "titleAngle": 270, "titleAlign": "center", "titleBaseline": "middle"}},
           "detail": {"field": "s", "type": "nominal"}
         }},
        {"data": {"values": [{}]}, "mark": {"type": "rule", "color": "black", "strokeWidth": 3.5, "strokeDash": [13, 13]},
         "encoding": {"x": {"datum": 32.5, "type": "quantitative"}, "y": {"datum": 2000, "type": "quantitative"}, "y2": {"datum": 1315}}},
        {"data": {"values": [{}]}, "mark": {"type": "point", "shape": "M-0.7,-1L0.7,-1L0,1Z", "filled": true, "color": "black", "size": 400, "opacity": 1},
         "encoding": {"x": {"datum": 32.5, "type": "quantitative"}, "y": {"datum": 1293, "type": "quantitative"}}},
        {"data": {"values": [{"label": "B", "t": 34.65, "v": 1361}]}, "mark": {"type": "point", "shape": "circle", "filled": false, "stroke": "black", "strokeWidth": 2.5, "size": 1700, "opacity": 1},
         "encoding": {"x": {"field": "t", "type": "quantitative"}, "y": {"field": "v", "type": "quantitative"}}},
        {"data": {"values": [{"label": "B", "t": 34.65, "v": 1361}]}, "mark": {"type": "text", "font": "Open Sans", "fontSize": 33, "align": "center", "baseline": "middle", "color": "black", "dy": 1},
         "encoding": {"x": {"field": "t", "type": "quantitative"}, "y": {"field": "v", "type": "quantitative"}, "text": {"field": "label"}}}
      ]
    }
  ]
}
